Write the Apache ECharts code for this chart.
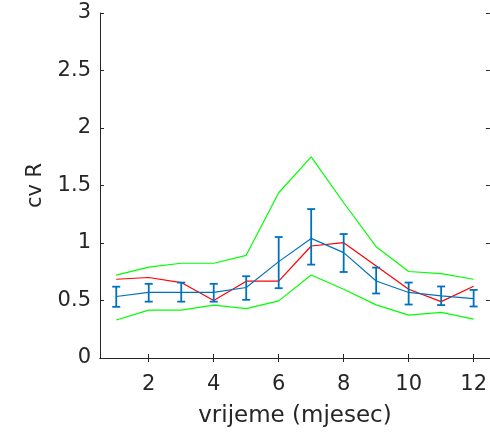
<!DOCTYPE html>
<html>
<head>
<meta charset="utf-8">
<script src="https://cdn.jsdelivr.net/npm/echarts@6/dist/echarts.min.js"></script>
<style>
html,body{margin:0;padding:0;background:#fff;}
#c{width:490px;height:433px;}
</style>
</head>
<body>
<div id="c"></div>
<script>
var months = [1,2,3,4,5,6,7,8,9,10,11,12];
var meanBlue = [0.535,0.57,0.57,0.57,0.613,0.838,1.04,0.916,0.67,0.57,0.54,0.517];
var errHigh = [0.62,0.645,0.656,0.645,0.711,1.052,1.295,1.078,0.786,0.656,0.622,0.592];
var errLow = [0.445,0.49,0.49,0.49,0.506,0.607,0.812,0.748,0.561,0.465,0.46,0.448];
var redLine = [0.685,0.70,0.656,0.50,0.668,0.668,0.974,1.003,0.80,0.598,0.49,0.624];
var greenUpper = [0.72,0.79,0.824,0.824,0.893,1.437,1.749,1.35,0.968,0.752,0.734,0.685];
var greenLower = [0.33,0.416,0.416,0.46,0.43,0.497,0.722,0.598,0.462,0.373,0.396,0.338];
var xTicks = [2,4,6,8,10,12];
var yTicks = [0,0.5,1,1.5,2,2.5,3];

var FONT = 'DejaVu Sans, sans-serif';
var AX = '#262626';
function pairs(ys){ return months.map(function(m,i){return [m, ys[i]];}); }
var errData = months.map(function(m,i){return [m, errLow[i], errHigh[i]];});

var chart = echarts.init(document.getElementById('c'), null, {renderer:'canvas'});
var axisLineStyle = {show:true, lineStyle:{color:AX, width:1}};
chart.setOption({
  animation:false,
  grid:{left:100, top:13, width:394, height:346, containLabel:false},
  xAxis:[{
    type:'value', min:0.5, max:12.5, position:'bottom',
    axisLine:axisLineStyle,
    axisTick:{show:true, inside:true, length:4, customValues:xTicks, lineStyle:{color:AX}},
    axisLabel:{customValues:xTicks, color:AX, fontSize:21, fontFamily:FONT, margin:16},
    splitLine:{show:false},
    name:'vrijeme (mjesec)', nameLocation:'middle', nameGap:47,
    nameTextStyle:{color:AX, fontSize:23, fontFamily:FONT}
  },{
    type:'value', min:0.5, max:12.5, position:'top',
    axisLine:axisLineStyle,
    axisTick:{show:true, inside:true, length:4, customValues:xTicks, lineStyle:{color:AX}},
    axisLabel:{show:false}, splitLine:{show:false}
  }],
  yAxis:[{
    type:'value', min:0, max:3, interval:0.5, position:'left',
    axisLine:axisLineStyle,
    axisTick:{show:true, inside:true, length:4, lineStyle:{color:AX}},
    axisLabel:{color:AX, fontSize:21, fontFamily:FONT, margin:9,
      formatter:function(v){return yTicks.indexOf(v)>=0 ? String(v) : '';}},
    splitLine:{show:false},
    name:'cv R', nameLocation:'middle', nameGap:54, nameRotate:90,
    nameTextStyle:{color:AX, fontSize:21, fontFamily:FONT}
  },{
    type:'value', min:0, max:3, interval:0.5, position:'right',
    axisLine:axisLineStyle,
    axisTick:{show:true, inside:true, length:4, lineStyle:{color:AX}},
    axisLabel:{show:false}, splitLine:{show:false}
  }],
  series:[
    {type:'line', data:pairs(greenUpper), symbol:'none', lineStyle:{color:'#00FF00', width:1.2}, z:2},
    {type:'line', data:pairs(greenLower), symbol:'none', lineStyle:{color:'#00FF00', width:1.2}, z:2},
    {type:'line', data:pairs(redLine), symbol:'none', lineStyle:{color:'#FF0000', width:1.2}, z:3},
    {type:'line', data:pairs(meanBlue), symbol:'none', lineStyle:{color:'#0072BD', width:1.2}, z:4},
    {type:'custom', data:errData, z:5,
      renderItem:function(params, api){
        var x = api.value(0);
        var lo = api.coord([x, api.value(1)]);
        var hi = api.coord([x, api.value(2)]);
        var hw = 4;
        var st = {stroke:'#0072BD', lineWidth:1.8, fill:null};
        return {type:'group', children:[
          {type:'line', shape:{x1:lo[0], y1:lo[1], x2:hi[0], y2:hi[1]}, style:st},
          {type:'line', shape:{x1:lo[0]-hw, y1:lo[1], x2:lo[0]+hw, y2:lo[1]}, style:st},
          {type:'line', shape:{x1:hi[0]-hw, y1:hi[1], x2:hi[0]+hw, y2:hi[1]}, style:st}
        ]};
      }
    }
  ]
});
</script>
</body>
</html>
